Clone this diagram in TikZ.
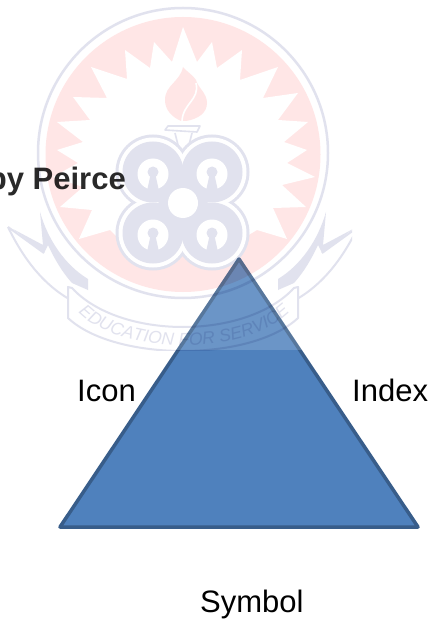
\documentclass[tikz,border=0pt]{standalone}
\usepackage{fontspec}
\setmainfont{Liberation Sans}
\usetikzlibrary{positioning,decorations.text}
\definecolor{triblue}{RGB}{79,129,189}
\definecolor{triedge}{RGB}{56,93,138}
\definecolor{crestpink}{RGB}{255,230,230}
\definecolor{crestblue}{RGB}{225,226,238}
\tikzset{
  labelnode/.style={anchor=base west,inner sep=0pt,text=black,font=\fontsize{31}{37}\selectfont},
  triface/.style={fill=triblue,draw=triedge,line width=3.5pt,line join=round},
  crestline/.style={draw=crestblue,line width=2pt,line join=round},
  crestfill/.style={fill=crestblue},
  crestpaper/.style={fill=white}
}
\newcommand{\crestletters}{\fontsize{17.5}{20}\itshape\color{crestblue}}
% one ribbon tail, drawn twice
\newcommand{\crestwing}{
  \fill[crestfill] (40,212) .. controls (48,240) and (65,265) .. (88,279) -- (88,290) -- (72,283)
    .. controls (62,272) and (54,258) .. (48,245) -- (44,253) -- (13,229) -- (43,245) -- cycle;
  \draw[crestline] (8,227) -- (44,253);
  \draw[crestline] (8,227) .. controls (25,262) and (45,285) .. (69,299);
}
\begin{document}
\begin{tikzpicture}[x=1pt,y=-1pt]
  \clip (0,0) rectangle (432,620);
  \fill[white] (0,0) rectangle (432,620);

  \coordinate (apex) at (239,259);
  \coordinate (baseL) at (60,527);
  \coordinate (baseR) at (418,527);
  \draw[triface] (apex) -- (baseR) -- (baseL) -- cycle;

  \node[labelnode,anchor=base east,font=\fontsize{31}{37}\selectfont\bfseries] (peirce) at (126,190) {by Peirce};
  \node[labelnode] (icon) at (77,401) {Icon};
  \node[labelnode] (index) at (352,401) {Index};
  \node[labelnode] (symbol) at (200,612) {Symbol};

  % the faded crest lies over everything above y=350
  \fill[white,opacity=.16] (0,0) rectangle (352,350);
  \begin{scope}[transparency group,blend mode=multiply]
    \clip (0,0) rectangle (352,350);
    \draw[crestline,line width=2.5pt] (183,153) circle (145pt);
    \fill[crestpink] (183,154.5) circle (137.5pt);
    \fill[crestpaper] (183,27) -- (197,62) -- (212,42) -- (217,68) -- (242,50) -- (240,80) -- (278,67)
      -- (263,98) -- (298,93) -- (278,120) -- (308,122) -- (284,142) -- (307,150) -- (287,163)
      -- (315,177) -- (282,185) -- (306,207) -- (273,208) -- (287,239) -- (257,230) -- (240,240)
      -- (120,240) -- (110,230) -- (79,239) -- (92,210) -- (60,207) -- (83,187) -- (53,177)
      -- (78,163) -- (57,150) -- (83,142) -- (57,122) -- (90,120) -- (73,97) -- (107,98)
      -- (91,67) -- (127,79) -- (125,50) -- (150,68) -- (154,42) -- (172,62) -- cycle;
    % flame and torch
    \fill[crestpink] (183,67) .. controls (180,82) and (165,85) .. (165,100)
      .. controls (165,110) and (172,117) .. (181,121) -- (186,121)
      .. controls (198,119) and (207,113) .. (207,103) .. controls (207,93) and (198,88) .. (196,80)
      .. controls (193,75) and (187,72) .. (183,67) -- cycle;
    \draw[white,line width=1.6pt] (196,83) .. controls (200,100) and (183,103) .. (182,121);
    \draw[crestline,line width=1.6pt,fill=white] (165,130) -- (168,126) -- (200,126) -- (197,132) -- cycle;
    \draw[crestline,line width=1.6pt] (175,133) -- (178,145) (192,133) -- (189,145);
    % clover
    \foreach \lx/\ly in {153/172,212/172,153/233,212/233}
      \fill[crestfill] (\lx,\ly) circle (37.5pt);
    \foreach \lx/\ly in {153/172,212/172,153/233,212/233}
      \fill[crestpaper] (\lx,\ly) circle (34.5pt);
    \foreach \lx/\ly in {153/172,212/172,153/233,212/233}
      \fill[crestfill] (\lx,\ly) circle (30.5pt);
    \fill[crestfill] (183,178) -- (208,203) -- (183,228) -- (158,203) -- cycle;
    \foreach \lx/\ly in {153/172,212/172,153/233,212/233}{
      \fill[crestpaper] (\lx,\ly+2) circle (15.5pt);
      \fill[crestfill] (\lx,\ly) circle (5.5pt);
      \fill[crestfill] (\lx-2.5,\ly+3) -- (\lx-6,\ly+19) -- (\lx+6,\ly+19) -- (\lx+2.5,\ly+3) -- cycle;
    }
    \fill[crestpaper] (183,203) circle (15pt);
    % ribbon
    \crestwing
    \begin{scope}[shift={(366,0)},xscale=-1]
      \crestwing
    \end{scope}
    \draw[crestline,crestpaper] (72,288) -- (68,287) -- (68,318) .. controls (115,362) and (251,362) .. (298,318)
      -- (298,287) -- (294,288) .. controls (246,340) and (120,340) .. (72,288) -- cycle;
    \path[decorate,decoration={text along path,text align=center,
        text={|\crestletters|EDUCATION FOR SERVICE}}]
      (78,312) .. controls (120,356) and (246,356) .. (290,312);
  \end{scope}
\end{tikzpicture}
\end{document}
